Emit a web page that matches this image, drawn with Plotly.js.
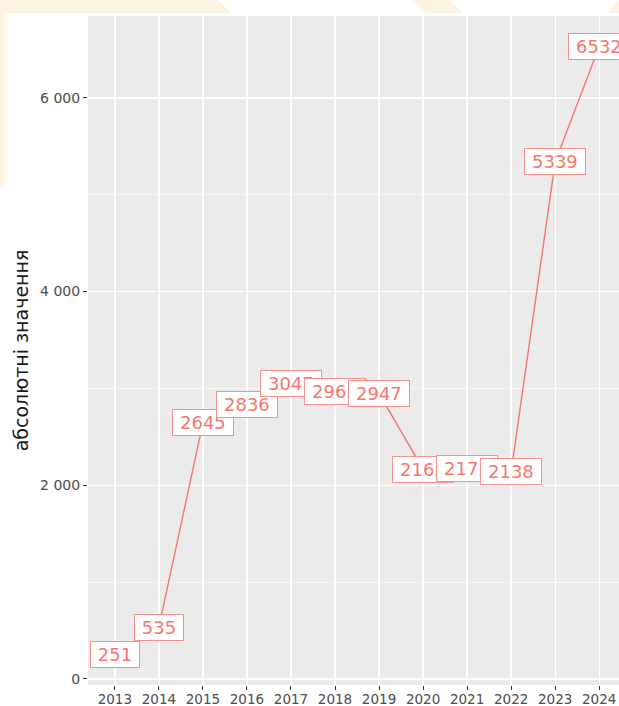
<!DOCTYPE html>
<html>
<head>
<meta charset="utf-8">
<script src="https://cdn.plot.ly/plotly-3.0.1.min.js"></script>
<style>html,body{margin:0;padding:0;background:#fff;}#chart{width:619px;height:706px;}</style>
</head>
<body>
<div id="chart"></div>
<script>
// ---- data ----
const years = [2013, 2014, 2015, 2016, 2017, 2018, 2019, 2020, 2021, 2022, 2023, 2024];
const values = [251, 535, 2645, 2836, 3047, 2965, 2947, 2165, 2175, 2138, 5339, 6532];
const yTickVals = [0, 2000, 4000, 6000];
const yTitle = 'абсолютні значення';

// ---- layout constants ----
const W = 619, H = 706;
const M = {l: 88, r: 0, t: 16, b: 21};
const PW = W - M.l - M.r, PH = H - M.t - M.b;
const red = '#F8766D';
const cream = '#FEF3E2';

function px2paper(pts) {
  return 'M' + pts.map(p => ((p[0] - M.l) / PW).toFixed(5) + ',' + ((H - M.b - p[1]) / PH).toFixed(5)).join(' L') + ' Z';
}
const deco = [
  [[0,0],[218,0],[231,13],[5,13],[5,183],[0,187]],
  [[410,0],[449,0],[463,13],[427,13]],
  [[619,0],[619,13],[607,13]]
].map(p => ({type:'path', xref:'paper', yref:'paper', path:px2paper(p), fillcolor:cream, line:{width:0}, layer:'below'}));

const annotations = years.map((yr, i) => {
  const t = String(values[i]);
  return {
    x: yr, y: values[i], xref:'x', yref:'y', text: t, showarrow:false,
    font:{family:'DejaVu Sans', size:18, color:red},
    bgcolor:'#ffffff', bordercolor:'#F4928B', borderwidth:1, borderpad:1.5,
    width: t.length * 11.7 + 10, height: 22, align:'center', valign:'middle'
  };
});

const trace = {
  x: years, y: values, type:'scatter', mode:'lines',
  line:{color:red, width:1.4}, hoverinfo:'skip', showlegend:false
};

const layout = {
  width: W, height: H,
  margin: M,
  paper_bgcolor:'#ffffff', plot_bgcolor:'#EBEBEB',
  separators: ', ',
  font:{family:'DejaVu Sans', color:'#4d4d4d'},
  showlegend:false,
  xaxis:{
    range:[2012.39, 2024.45], tickvals: years, ticktext: years.map(String),
    showgrid:true, gridcolor:'#ffffff', gridwidth:1.3, zeroline:false,
    ticks:'outside', ticklen:4, tickcolor:'#333333', tickwidth:1,
    ticklabelstandoff:-2,
    tickfont:{family:'DejaVu Sans', size:13.5, color:'#4d4d4d'},
    showline:false, fixedrange:true
  },
  yaxis:{
    range:[-63, 6846], tickvals: yTickVals, tickformat:',d',
    showgrid:true, gridcolor:'#ffffff', gridwidth:1.3,
    zeroline:true, zerolinecolor:'#ffffff', zerolinewidth:1.3,
    minor:{dtick:1000, tick0:0, showgrid:true, gridcolor:'#ffffff', gridwidth:0.6, ticks:''},
    ticks:'outside', ticklen:4, tickcolor:'#333333', tickwidth:1,
    tickfont:{family:'DejaVu Sans', size:14, color:'#4d4d4d'},
    title:{text:yTitle, font:{family:'DejaVu Sans', size:19, color:'#1a1a1a'}, standoff:6},
    showline:false, fixedrange:true
  },
  shapes: deco,
  annotations: annotations
};

Plotly.newPlot('chart', [trace], layout, {displayModeBar:false, staticPlot:true});
</script>
</body>
</html>
